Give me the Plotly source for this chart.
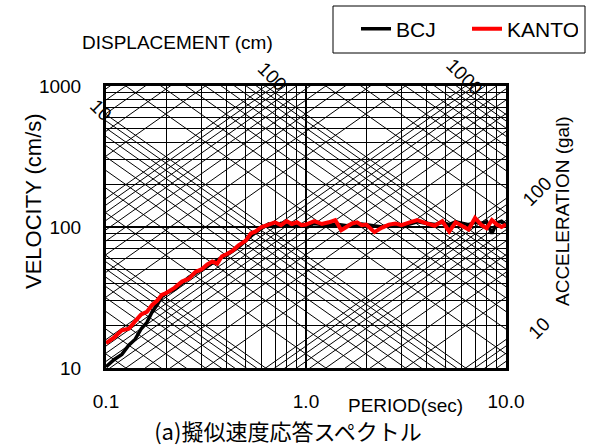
import numpy as np
import plotly.graph_objects as go

# ---- data ----
periods = [0.10, 0.11, 0.12, 0.13, 0.14, 0.15, 0.16, 0.17, 0.18, 0.19, 0.20, 0.22, 0.24, 0.26,
           0.28, 0.30, 0.32, 0.34, 0.36, 0.38, 0.40, 0.43, 0.46, 0.50, 0.53, 0.56, 0.60, 0.65,
           0.70, 0.75, 0.80, 0.85, 0.90, 0.95, 1.0, 1.1, 1.2, 1.3, 1.4, 1.5, 1.6, 1.7, 1.8, 1.9,
           2.0, 2.2, 2.4, 2.6, 2.8, 3.0, 3.3, 3.6, 4.0, 4.4, 4.8, 5.2, 5.6, 6.0, 6.5, 7.0, 7.5,
           8.0, 8.5, 9.0, 9.5, 10.0]
bcj = [10.2, 11.5, 12.5, 14.5, 16.0, 19.0, 21.0, 25.0, 28.0, 32.0, 34.0, 36.0, 40.0, 44.0,
       47.0, 50.0, 53.0, 56.0, 59.0, 61.0, 63.0, 67.0, 72.0, 80.0, 86.0, 92.0, 98.0, 105.0,
       100.0, 106.0, 104.0, 106.0, 102.0, 104.0, 103.0, 106.0, 104.0, 102.0, 105.0, 103.0,
       102.0, 104.0, 103.0, 105.0, 104.0, 103.0, 100.0, 103.0, 104.0, 103.0, 105.0, 109.0,
       107.0, 104.0, 108.0, 104.0, 109.0, 106.0, 104.0, 108.0, 106.0, 109.0, 90.0, 107.0,
       110.0, 104.0]
kanto = [15.0, 16.5, 18.5, 19.0, 21.5, 24.0, 25.0, 28.0, 30.0, 33.0, 34.0, 37.0, 41.0, 43.0,
         48.0, 50.0, 54.0, 57.0, 55.0, 62.0, 64.0, 68.0, 74.0, 80.0, 90.0, 93.0, 100.0, 104.0,
         108.0, 103.0, 110.0, 105.0, 108.0, 103.0, 104.0, 110.0, 105.0, 108.0, 112.0, 95.0,
         100.0, 106.0, 108.0, 103.0, 104.0, 92.0, 99.0, 104.0, 106.0, 103.0, 108.0, 112.0,
         106.0, 102.0, 110.0, 93.0, 108.0, 102.0, 96.0, 116.0, 104.0, 98.0, 112.0, 104.0,
         100.0, 104.0]

x_ticks = [0.1, 1.0, 10.0]
x_ticktext = ["0.1", "1.0", "10.0"]
y_ticks = [10, 100, 1000]
y_ticktext = ["10", "100", "1000"]
disp_labels = [10, 100, 1000]
acc_labels = [100, 10]

# ---- tripartite grid values (1..9 x decades) ----
mult = list(range(1, 10))
minor_x = [m * 10.0 ** k for k in (-1, 0) for m in mult[1:]]
minor_y = [m * 10.0 ** k for k in (1, 2) for m in mult[1:]]
disp_vals = [m * 10.0 ** k for k in range(-2, 5) for m in mult]
acc_vals = [m * 10.0 ** k for k in range(-1, 6) for m in mult]

TWO_PI = 2 * np.pi
t_ends = [0.01, 100.0]

dx, dy = [], []
for d in disp_vals:
    for t in t_ends:
        dx.append(t)
        dy.append(TWO_PI * d / t)
    dx.append(None)
    dy.append(None)
ax_, ay_ = [], []
for a in acc_vals:
    for t in t_ends:
        ax_.append(t)
        ay_.append(a * t / TWO_PI)
    ax_.append(None)
    ay_.append(None)

LAT = "Liberation Sans, Arial, sans-serif"
CJK = "Noto Sans CJK JP, sans-serif"

X_RANGE = [-1, 1]
Y_RANGE = [1, 3]


def to_paper(logx, logy):
    return ((logx - X_RANGE[0]) / (X_RANGE[1] - X_RANGE[0]),
            (logy - Y_RANGE[0]) / (Y_RANGE[1] - Y_RANGE[0]))


fig = go.Figure()
fig.add_trace(go.Scatter(x=dx, y=dy, mode="lines", line=dict(color="black", width=1),
                         showlegend=False, hoverinfo="skip"))
fig.add_trace(go.Scatter(x=ax_, y=ay_, mode="lines", line=dict(color="black", width=1),
                         showlegend=False, hoverinfo="skip"))
fig.add_trace(go.Scatter(x=periods, y=bcj, mode="lines", name="BCJ",
                         line=dict(color="black", width=3.5)))
fig.add_trace(go.Scatter(x=periods, y=kanto, mode="lines", name="KANTO",
                         line=dict(color="#ff0000", width=4)))

L, R, T, B = 106, 88, 86, 80
W, H = 594, 448
pw, ph = W - L - R, H - T - B

annotations = []
# displacement labels (rotated along the constant-displacement lines), placed in log-axis units
disp_pos = {10: (-1.03, 2.83), 100: (-0.17, 3.064), 1000: (0.79, 3.064)}
for d in disp_labels:
    px_, py_ = to_paper(*disp_pos[d])
    annotations.append(dict(x=px_, y=py_, xref="paper", yref="paper", text=str(d),
                            xanchor="center", yanchor="middle",
                            showarrow=False, textangle=45,
                            font=dict(family=LAT, size=19, color="black")))
acc_pos = {100: (1.155, 2.255), 10: (1.165, 1.277)}
for a in acc_labels:
    px_, py_ = to_paper(*acc_pos[a])
    annotations.append(dict(x=px_, y=py_, xref="paper", yref="paper", text=str(a),
                            xanchor="center", yanchor="middle",
                            showarrow=False, textangle=-45,
                            font=dict(family=LAT, size=19, color="black")))


def pix(xp, yp):
    return dict(x=(xp - L) / pw, y=(H - yp - B) / ph, xref="paper", yref="paper",
                xanchor="center", yanchor="middle")


annotations += [
    dict(**pix(177, 42), text="DISPLACEMENT (cm)", showarrow=False,
         font=dict(family=LAT, size=19, color="black")),
    dict(**pix(33, 201), text="VELOCITY (cm/s)", textangle=-90, showarrow=False,
         font=dict(family=LAT, size=22, color="black")),
    dict(**pix(562, 211), text="ACCELERATION (gal)", textangle=-90, showarrow=False,
         font=dict(family=LAT, size=19, color="black")),
    dict(**pix(405, 405), text="PERIOD(sec)", showarrow=False,
         font=dict(family=LAT, size=19, color="black")),
]

shapes = [dict(type="rect", xref="paper", yref="paper",
               x0=(333 - L) / pw, x1=(585 - L) / pw,
               y0=(H - 53 - B) / ph, y1=(H - 6 - B) / ph,
               line=dict(color="black", width=1), fillcolor="white", layer="below")]

axis_common = dict(type="log", showline=True, mirror=True, linecolor="black", linewidth=3,
                   showgrid=True, gridcolor="black", gridwidth=2, zeroline=False,
                   ticks="", tickfont=dict(family=LAT, size=19, color="black"))

fig.update_layout(
    width=W, height=H,
    margin=dict(l=L, r=R, t=T, b=B, autoexpand=False),
    paper_bgcolor="white", plot_bgcolor="white",
    xaxis=dict(range=X_RANGE, tickvals=x_ticks, ticktext=x_ticktext, ticklabelstandoff=14,
               minor=dict(tickvals=minor_x, showgrid=True, gridcolor="black", gridwidth=1),
               **axis_common),
    yaxis=dict(range=Y_RANGE, tickvals=y_ticks, ticktext=y_ticktext, ticklabelstandoff=18,
               minor=dict(tickvals=minor_y, showgrid=True, gridcolor="black", gridwidth=1),
               **axis_common),
    title=dict(text="(a)擬似速度応答スペクトル", x=288 / W, xanchor="center",
               y=1 - 432 / H, yanchor="middle", yref="container",
               font=dict(family=CJK, size=22, color="black")),
    legend=dict(orientation="h", x=(356 - L) / pw, y=(H - 29 - B) / ph, xanchor="left",
                yanchor="middle", bgcolor="rgba(0,0,0,0)", borderwidth=0,
                entrywidth=66, entrywidthmode="pixels",
                font=dict(family=LAT, size=21, color="black")),
    annotations=annotations,
    shapes=shapes,
    showlegend=True,
)

fig.write_html("out.html", config={"displayModeBar": False},
               post_script="document.body.style.margin='0';")
